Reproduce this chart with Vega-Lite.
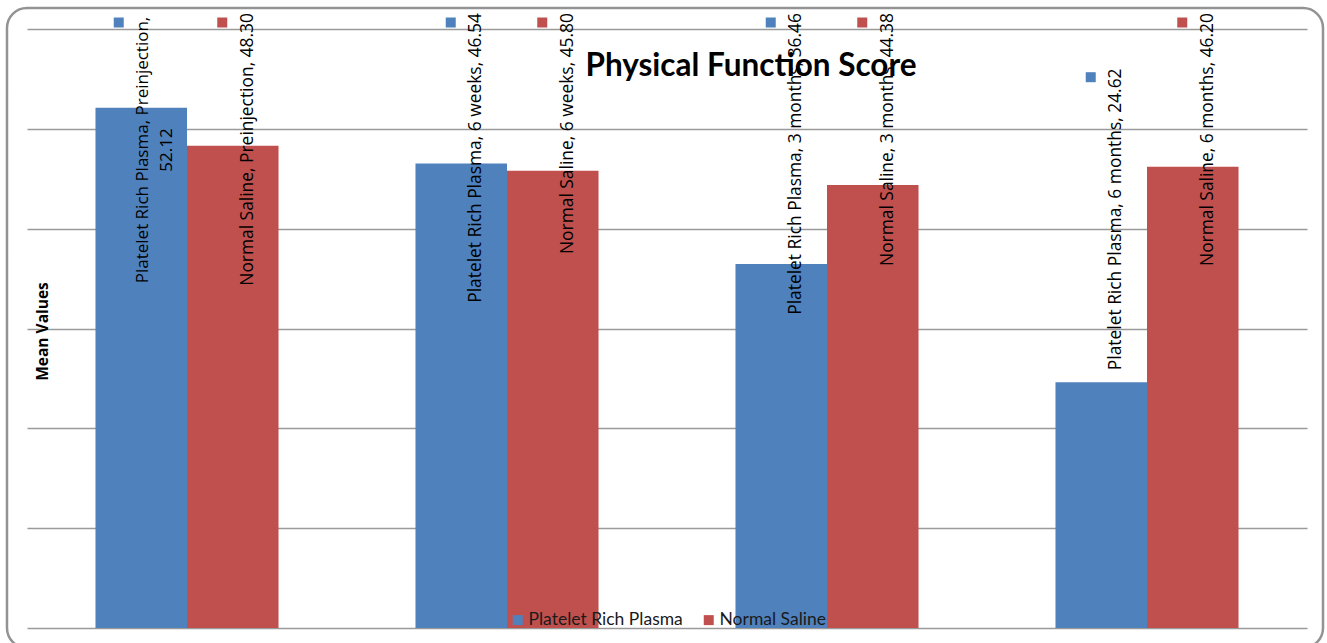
{
  "$schema": "https://vega.github.io/schema/vega-lite/v6.json",
  "width": 1316,
  "height": 640,
  "autosize": {"type": "none"},
  "padding": {"left": 7, "top": 8, "right": 4, "bottom": 0},
  "background": "white",
  "config": {
    "view": {"stroke": "#939393", "strokeWidth": 2.5, "cornerRadius": 20},
    "font": "Open Sans"
  },
  "title": {
    "text": "Physical Function Score",
    "font": "Lato",
    "fontSize": 31.5,
    "fontWeight": "bold",
    "color": "black",
    "anchor": "middle",
    "frame": "group",
    "offset": 0,
    "baseline": "alphabetic",
    "dx": 86,
    "dy": 99
  },
  "data": {
    "values": [
      {"time": "Preinjection", "series": "Platelet Rich Plasma", "value": 52.12, "label": "Platelet Rich Plasma, Preinjection,\n52.12"},
      {"time": "Preinjection", "series": "Normal Saline", "value": 48.30, "label": "Normal Saline, Preinjection, 48.30"},
      {"time": "6 weeks", "series": "Platelet Rich Plasma", "value": 46.54, "label": "Platelet Rich Plasma, 6 weeks, 46.54"},
      {"time": "6 weeks", "series": "Normal Saline", "value": 45.80, "label": "Normal Saline, 6 weeks, 45.80"},
      {"time": "3 months", "series": "Platelet Rich Plasma", "value": 36.46, "label": "Platelet Rich Plasma, 3 months, 36.46"},
      {"time": "3 months", "series": "Normal Saline", "value": 44.38, "label": "Normal Saline, 3 months, 44.38"},
      {"time": "6 months", "series": "Platelet Rich Plasma", "value": 24.62, "label": "Platelet Rich Plasma, 6 months, 24.62"},
      {"time": "6 months", "series": "Normal Saline", "value": 46.20, "label": "Normal Saline, 6 months, 46.20"}
    ]
  },
  "encoding": {
    "x": {
      "field": "time",
      "type": "nominal",
      "sort": ["Preinjection", "6 weeks", "3 months", "6 months"],
      "axis": null,
      "scale": {"range": [20, 1300], "paddingInner": 0.428, "paddingOuter": 0.214}
    },
    "xOffset": {
      "field": "series",
      "type": "nominal",
      "sort": ["Platelet Rich Plasma", "Normal Saline"]
    }
  },
  "layer": [
    {
      "mark": {"type": "bar"},
      "encoding": {
        "y": {
          "field": "value",
          "type": "quantitative",
          "scale": {"domain": [0, 60], "range": [620, 21], "nice": false, "zero": true},
          "axis": {
            "title": "Mean Values",
            "values": [0, 10, 20, 30, 40, 50, 60],
            "grid": true,
            "gridColor": "#9a9a9a",
            "gridWidth": 1.5,
            "labels": false,
            "ticks": false,
            "domain": false,
            "titleFont": "Open Sans",
            "titleFontSize": 15.5,
            "titleFontWeight": "bold",
            "titleColor": "black",
            "titleAngle": 270,
            "titleAlign": "center",
            "titleBaseline": "middle",
            "titleX": 35,
            "titleY": 323
          }
        },
        "color": {
          "field": "series",
          "type": "nominal",
          "sort": ["Platelet Rich Plasma", "Normal Saline"],
          "scale": {"domain": ["Platelet Rich Plasma", "Normal Saline"], "range": ["#4F81BD", "#C0504D"]},
          "legend": {
            "orient": "none",
            "legendX": 502,
            "legendY": 603,
            "direction": "horizontal",
            "title": null,
            "symbolType": "square",
            "symbolSize": 100,
            "symbolStrokeWidth": 0,
            "labelFont": "Lato",
            "labelFontSize": 17.5,
            "labelColor": "#1a1a1a",
            "labelOffset": 2,
            "columnPadding": 17,
            "padding": 0
          }
        }
      }
    },
    {
      "transform": [{"filter": "!(datum.series === 'Platelet Rich Plasma' && (datum.time === 'Preinjection' || datum.time === '6 months'))"}],
      "mark": {"type": "text", "angle": 270, "align": "right", "baseline": "middle", "dx": 16, "dy": 15, "fontSize": 17.4, "font": "Open Sans", "color": "black"},
      "encoding": {
        "y": {"datum": 60, "type": "quantitative"},
        "text": {"field": "label", "type": "nominal"}
      }
    },
    {
      "transform": [{"filter": "datum.series === 'Platelet Rich Plasma' && datum.time === 'Preinjection'"}],
      "mark": {"type": "text", "angle": 270, "align": "center", "baseline": "middle", "lineBreak": "\n", "lineHeight": 24, "dx": -121, "dy": 1.5, "fontSize": 17, "font": "Open Sans", "color": "black"},
      "encoding": {
        "y": {"datum": 60, "type": "quantitative"},
        "text": {"field": "label", "type": "nominal"}
      }
    },
    {
      "transform": [{"filter": "datum.series === 'Platelet Rich Plasma' && datum.time === '6 months'"}],
      "mark": {"type": "text", "angle": 270, "align": "left", "baseline": "middle", "dx": 12, "dy": 15, "fontSize": 17.4, "font": "Open Sans", "color": "black"},
      "encoding": {
        "y": {"field": "value", "type": "quantitative"},
        "text": {"field": "label", "type": "nominal"}
      }
    },
    {
      "transform": [{"filter": "!(datum.series === 'Platelet Rich Plasma' && (datum.time === 'Preinjection' || datum.time === '6 months'))"}],
      "mark": {"type": "point", "shape": "M -3.1 -1 L -1.1 -1 L -1.1 1 L -3.1 1 Z", "filled": true, "size": 100, "opacity": 1, "yOffset": -6.5},
      "encoding": {
        "y": {"datum": 60, "type": "quantitative"},
        "color": {"field": "series", "type": "nominal", "legend": null}
      }
    },
    {
      "transform": [{"filter": "datum.series === 'Platelet Rich Plasma' && datum.time === 'Preinjection'"}],
      "mark": {"type": "point", "shape": "M -5.5 -1 L -3.5 -1 L -3.5 1 L -5.5 1 Z", "filled": true, "size": 100, "opacity": 1, "yOffset": -6.5},
      "encoding": {
        "y": {"datum": 60, "type": "quantitative"},
        "color": {"field": "series", "type": "nominal", "legend": null}
      }
    },
    {
      "transform": [{"filter": "datum.series === 'Platelet Rich Plasma' && datum.time === '6 months'"}],
      "mark": {"type": "point", "shape": "M -3.1 -1 L -1.1 -1 L -1.1 1 L -3.1 1 Z", "filled": true, "size": 100, "opacity": 1, "yOffset": -305},
      "encoding": {
        "y": {"field": "value", "type": "quantitative"},
        "color": {"field": "series", "type": "nominal", "legend": null}
      }
    }
  ]
}
